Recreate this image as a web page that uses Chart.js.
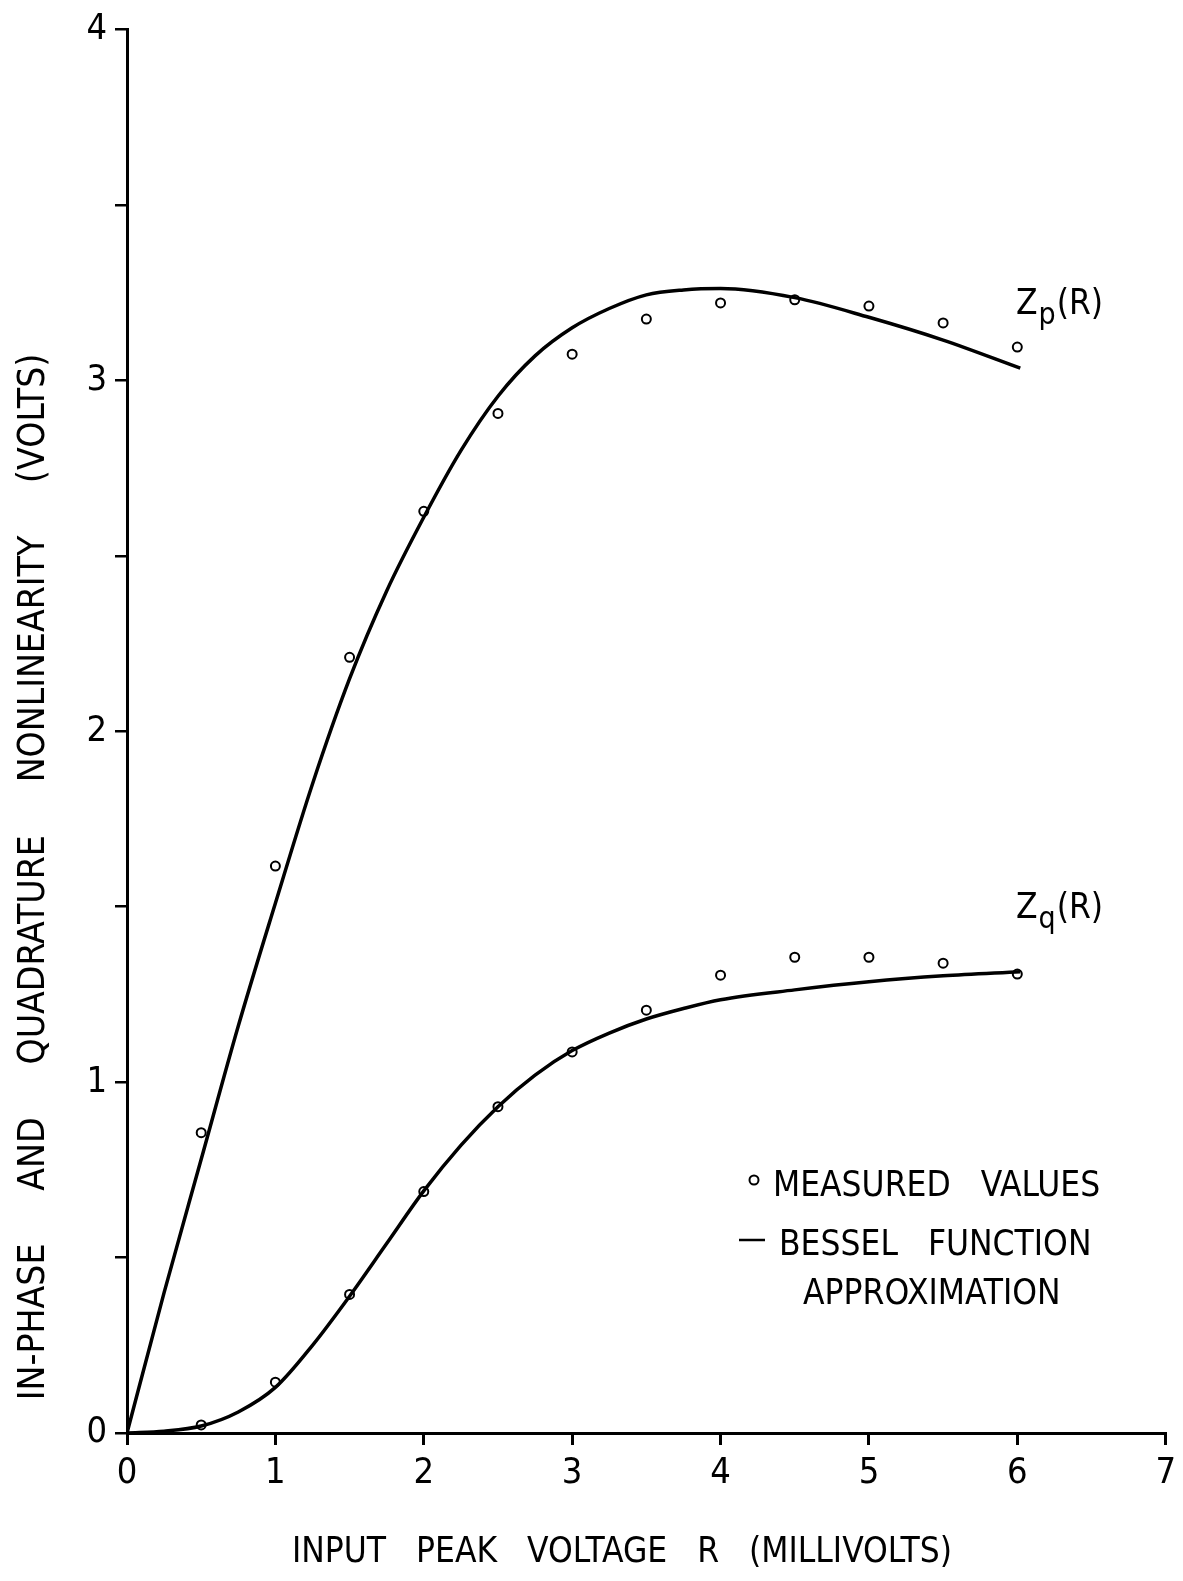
<!DOCTYPE html>
<html lang="en">
<head>
    <meta charset="UTF-8">
    <title>Nonlinearity vs input peak voltage</title>
    <script src="https://cdn.jsdelivr.net/npm/chart.js"></script>
    <style>
        html, body { margin: 0; padding: 0; background: #fff; }
        #wrap { width: 1183px; height: 1581px; }
    </style>
</head>
<body>

<div id="wrap">
    <canvas id="chart" width="1183" height="1581"></canvas>
</div>

<script>
    // measured points (open circles)
    const measuredR  = [0.5, 1, 1.5, 2, 2.5, 3, 3.5, 4, 4.5, 5, 5.5, 6];
    const measuredZp = [0.856, 1.616, 2.211, 2.627, 2.906, 3.075, 3.175, 3.221, 3.23, 3.212, 3.164, 3.095];
    const measuredZq = [0.023, 0.145, 0.395, 0.688, 0.93, 1.086, 1.205, 1.305, 1.356, 1.356, 1.339, 1.308];

    // Bessel function approximation
    const curveR  = [0, 0.25, 0.5, 0.75, 1, 1.25, 1.5, 1.75, 2, 2.25, 2.5, 2.75, 3, 3.25, 3.5, 3.75, 4, 4.5, 5, 5.5, 6.02];
    const curveZp = [0, 0.40, 0.78, 1.16, 1.51, 1.85, 2.15, 2.40, 2.61, 2.80, 2.955, 3.07, 3.15, 3.205, 3.244, 3.258, 3.262, 3.236, 3.18, 3.115, 3.035];
    const curveZq = [0, 0.005, 0.02, 0.06, 0.13, 0.25, 0.39, 0.54, 0.69, 0.82, 0.93, 1.02, 1.09, 1.14, 1.18, 1.21, 1.235, 1.263, 1.286, 1.303, 1.315];

    const xTicks = [0, 1, 2, 3, 4, 5, 6, 7];
    const yTicks = [0, 1, 2, 3, 4];

    const FONT = '"Liberation Sans Narrow", "DejaVu Sans Condensed", "Roboto Condensed", sans-serif';

    const toXY = (xs, ys) => xs.map((x, i) => ({ x: x, y: ys[i] }));

    // axis titles, curve names and the legend box, drawn as text
    const labelsPlugin = {
        id: 'labels',
        afterDraw(chart) {
            const ctx = chart.ctx;
            ctx.save();
            ctx.fillStyle = '#000';
            ctx.strokeStyle = '#000';
            ctx.textBaseline = 'alphabetic';

            // x title
            ctx.font = '35px ' + FONT;
            ctx.textAlign = 'center';
            ctx.fillText('INPUT   PEAK   VOLTAGE   R   (MILLIVOLTS)', 622, 1562);

            // y title
            ctx.save();
            ctx.translate(44, 877);
            ctx.rotate(-Math.PI / 2);
            ctx.font = '37px ' + FONT;
            ctx.fillText('IN-PHASE     AND     QUADRATURE     NONLINEARITY     (VOLTS)', 0, 0);
            ctx.restore();

            // curve names
            const nameAt = (sub, px, py) => {
                ctx.textAlign = 'left';
                ctx.font = '35px ' + FONT;
                ctx.fillText('Z', px, py);
                const w = ctx.measureText('Z').width;
                ctx.font = '30px ' + FONT;
                ctx.fillText(sub, px + w + 1, py + 10);
                const w2 = ctx.measureText(sub).width;
                ctx.font = '35px ' + FONT;
                ctx.fillText('(R)', px + w + w2 + 2, py);
            };
            nameAt('p', 1016, 314);
            nameAt('q', 1016, 918);

            // legend
            ctx.font = '35px ' + FONT;
            ctx.textAlign = 'left';
            ctx.lineWidth = 2;
            ctx.beginPath();
            ctx.arc(754, 1180, 4.5, 0, Math.PI * 2);
            ctx.stroke();
            ctx.fillText('MEASURED   VALUES', 773, 1196);
            ctx.lineWidth = 2.5;
            ctx.beginPath();
            ctx.moveTo(739, 1240);
            ctx.lineTo(765, 1240);
            ctx.stroke();
            ctx.fillText('BESSEL   FUNCTION', 779, 1255);
            ctx.fillText('APPROXIMATION', 803, 1304);
            ctx.restore();
        }
    };

    new Chart(document.getElementById('chart'), {
        type: 'scatter',
        data: {
            datasets: [
                {
                    label: 'Zp(R) Bessel',
                    data: toXY(curveR, curveZp),
                    showLine: true,
                    borderColor: '#000',
                    borderWidth: 3.5,
                    pointRadius: 0,
                    cubicInterpolationMode: 'monotone'
                },
                {
                    label: 'Zq(R) Bessel',
                    data: toXY(curveR, curveZq),
                    showLine: true,
                    borderColor: '#000',
                    borderWidth: 3.5,
                    pointRadius: 0,
                    cubicInterpolationMode: 'monotone'
                },
                {
                    label: 'Zp measured',
                    data: toXY(measuredR, measuredZp),
                    pointRadius: 4.5,
                    pointBorderWidth: 2,
                    pointBorderColor: '#000',
                    pointBackgroundColor: '#fff'
                },
                {
                    label: 'Zq measured',
                    data: toXY(measuredR, measuredZq),
                    pointRadius: 4.5,
                    pointBorderWidth: 2,
                    pointBorderColor: '#000',
                    pointBackgroundColor: '#fff'
                }
            ]
        },
        options: {
            responsive: false,
            animation: false,
            layout: { padding: { top: 25, right: 12, left: 0, bottom: 0 } },
            plugins: {
                legend: { display: false },
                tooltip: { enabled: false }
            },
            scales: {
                x: {
                    type: 'linear',
                    min: 0,
                    max: 7,
                    afterFit(scale) { scale.height = 1581 - 1433; },
                    afterBuildTicks(scale) { scale.ticks = xTicks.map(v => ({ value: v })); },
                    border: { display: true, color: '#000', width: 3 },
                    grid: { drawOnChartArea: false, drawTicks: true, tickLength: 12, color: '#000', lineWidth: 3 },
                    ticks: { color: '#000', padding: 7, font: { family: FONT, size: 36 } }
                },
                y: {
                    type: 'linear',
                    min: 0,
                    max: 4,
                    afterFit(scale) { scale.width = 127; },
                    ticks: {
                        stepSize: 0.5,
                        color: '#000',
                        padding: 8,
                        font: { family: FONT, size: 36 },
                        callback: v => (yTicks.includes(v) ? String(v) : '')
                    },
                    border: { display: true, color: '#000', width: 3 },
                    grid: { drawOnChartArea: false, drawTicks: true, tickLength: 12, color: '#000', lineWidth: 2.5 }
                }
            }
        },
        plugins: [labelsPlugin]
    });
</script>

</body>
</html>
